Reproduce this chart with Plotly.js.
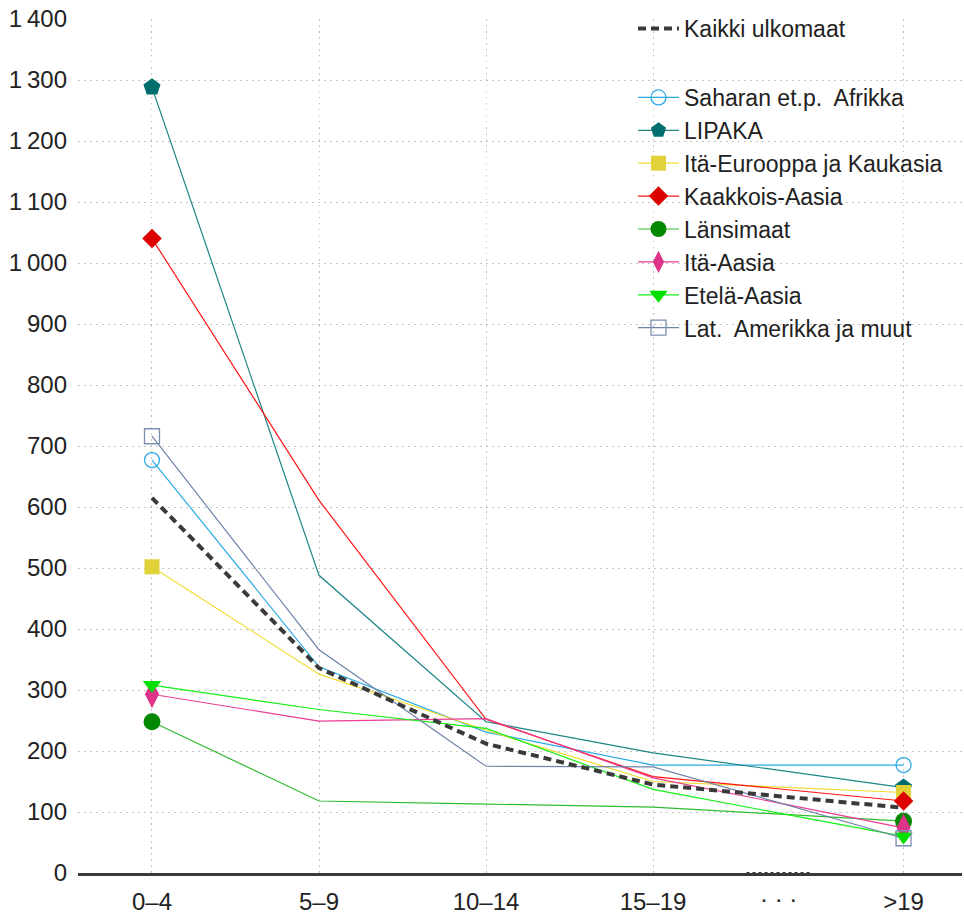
<!DOCTYPE html>
<html>
<head>
<meta charset="utf-8">
<script src="https://cdn.plot.ly/plotly-3.0.1.min.js"></script>
<style>html,body{margin:0;padding:0;background:#fff;}#chart{width:964px;height:917px;}</style>
</head>
<body>
<div id="chart"></div>
<script>
// ---- data ----
const categories = ['0–4', '5–9', '10–14', '15–19', '>19'];
const gapLabel = '· · ·';

const kaikkiName = 'Kaikki ulkomaat';
const kaikkiValues = [615, 336, 212, 145, 107];

const seriesNames = [
  'Saharan et.p.  Afrikka',
  'LIPAKA',
  'Itä-Eurooppa ja Kaukasia',
  'Kaakkois-Aasia',
  'Länsimaat',
  'Itä-Aasia',
  'Etelä-Aasia',
  'Lat.  Amerikka ja muut'
];
const saharanValues   = [677, 338, 231, 177, 177];
const lipakaValues    = [1288, 488, 248, 197, 140];
const itaEurValues    = [502, 326, 234, 150, 132];
const kaakkoisValues  = [1040, 611, 252, 158, 118];
const lansimaatValues = [248, 118, 113, 108, 85];
const itaAasiaValues  = [293, 249, 253, 156, 74];
const etelaAasiaValues= [308, 268, 237, 137, 60];
const latamValues     = [716, 366, 175, 174, 57];
const seriesValues = [saharanValues, lipakaValues, itaEurValues, kaakkoisValues,
                      lansimaatValues, itaAasiaValues, etelaAasiaValues, latamValues];

// ---- layout / styling ----
const xPosition = {'0–4': 0, '5–9': 1, '10–14': 2, '15–19': 3, '>19': 4.5};
const gapPosition = 3.75;
const styles = [
  {line: '#2aaae2', marker: '#2aaae2', symbol: 'circle-open', size: 15},
  {line: '#1c8585', marker: '#006e6e', symbol: 'pentagon', size: 18},
  {line: '#f0dc30', marker: '#e2d23a', symbol: 'square', size: 15},
  {line: '#ff1414', marker: '#dd0000', symbol: 'diamond', size: 15},
  {line: '#2fbb2f', marker: '#008800', symbol: 'circle', size: 17},
  {line: '#ec3d93', marker: '#dd3388', symbol: 'diamond-tall', size: 20},
  {line: '#14ee14', marker: '#00e000', symbol: 'triangle-down', size: 16},
  {line: '#6f84a8', marker: '#7b8fb0', symbol: 'square-open', size: 15}
];
const FONT = 'Liberation Sans, Arial, sans-serif';
const GRID = {showgrid: true, gridcolor: '#c4c4c4', griddash: '1.5px,4.5px', gridwidth: 1};

const xs = categories.map(c => xPosition[c]);
const lineTraces = [];
const markerTraces = [];
seriesNames.forEach((name, i) => {
  const vals = seriesValues[i];
  const st = styles[i];
  lineTraces.push({
    x: xs, y: vals, mode: 'lines', type: 'scatter',
    line: {color: st.line, width: 1.2},
    showlegend: false, hoverinfo: 'skip', legendgroup: 'r'
  });
  markerTraces.push({
    x: [xs[0], xs[0], xs[xs.length - 1]],
    y: [vals[0], null, vals[vals.length - 1]],
    mode: 'lines+markers', type: 'scatter', connectgaps: false,
    name: name, legendgroup: 'r', legendrank: 10 + i,
    line: {color: st.line, width: 1.2},
    marker: {symbol: st.symbol, size: st.size, color: st.marker,
             line: {color: st.marker, width: st.symbol.endsWith('open') ? 1.3 : 0}},
    hoverinfo: 'skip'
  });
});
const kaikkiTrace = {
  x: xs, y: kaikkiValues, mode: 'lines', type: 'scatter',
  name: kaikkiName, legendgroup: 'k', legendrank: 1,
  line: {color: '#3a3a3a', width: 4, dash: '8px,5px'},
  hoverinfo: 'skip'
};

const data = [...lineTraces, kaikkiTrace, ...markerTraces];

const layout = {
  width: 964, height: 917,
  margin: {l: 78, r: 2, t: 19, b: 44},
  paper_bgcolor: '#fff', plot_bgcolor: '#fff',
  font: {family: FONT, size: 24, color: '#222'},
  separators: '.\u2009',
  showlegend: true,
  legend: {
    x: (633 - 78) / 884, xanchor: 'left', y: 1.014, yanchor: 'top',
    traceorder: 'grouped', tracegroupgap: 36,
    font: {family: FONT, size: 23, color: '#222'},
    bgcolor: 'rgba(255,255,255,0)', borderwidth: 0, itemwidth: 41
  },
  xaxis: Object.assign({
    range: [-0.443, 4.85],
    tickvals: xs, ticktext: categories,
    zeroline: false, showline: true, linecolor: '#3a3a3a', linewidth: 3,
    ticks: '', ticklabelstandoff: 5,
    tickfont: {family: FONT, size: 24, color: '#222'}
  }, GRID),
  yaxis: Object.assign({
    range: [0, 1400], dtick: 100, tick0: 0,
    zeroline: false, showline: false, ticks: '', ticklabelstandoff: 10,
    separatethousands: true,
    tickfont: {family: FONT, size: 24, color: '#222'}
  }, GRID),
  annotations: [{
    x: gapPosition, y: 0, xref: 'x', yref: 'y', text: gapLabel,
    showarrow: false, yanchor: 'top', yshift: -10,
    font: {family: FONT, size: 24, color: '#222'}
  }],
  shapes: [
    {type: 'line', xref: 'x', yref: 'y', x0: 3.56, x1: 3.94, y0: 0, y1: 0,
     line: {color: '#ffffff', width: 4}, layer: 'above'},
    {type: 'line', xref: 'x', yref: 'y', x0: 3.56, x1: 3.94, y0: 0, y1: 0,
     line: {color: '#333333', width: 2, dash: 'dot'}, layer: 'above'}
  ]
};

Plotly.newPlot('chart', data, layout, {displayModeBar: false, staticPlot: true});
</script>
</body>
</html>
